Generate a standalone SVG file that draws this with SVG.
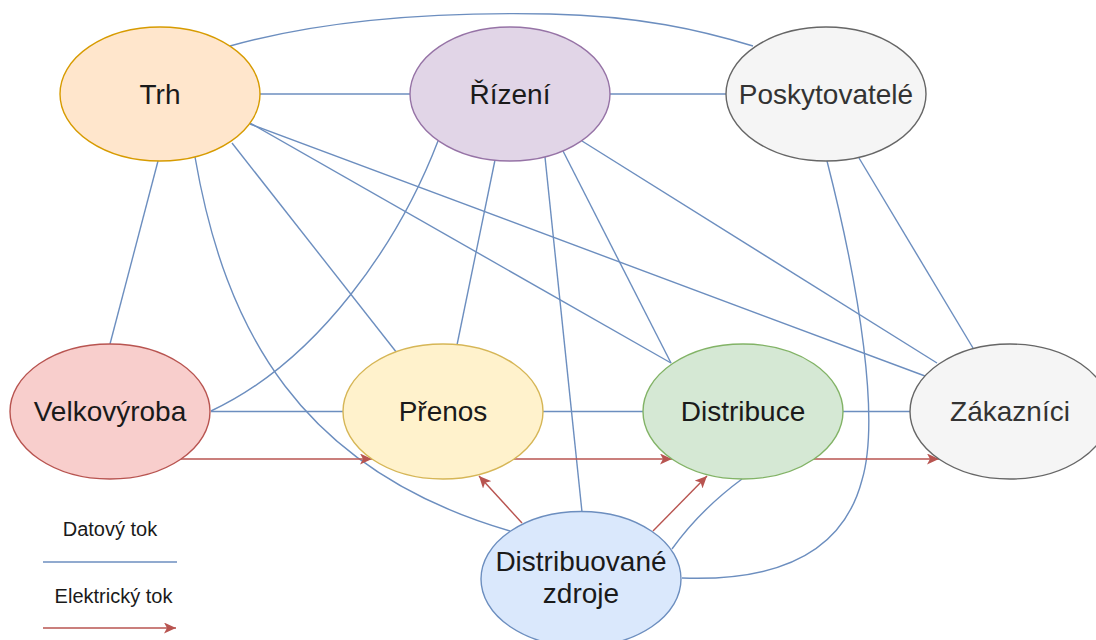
<svg xmlns="http://www.w3.org/2000/svg" width="1096" height="640" viewBox="0 0 1096 640">
  <defs>
    <style>
      .node ellipse { stroke-width: 1.4; }
      .label { font-family: "Liberation Sans", Arial, sans-serif; font-size: 28px; text-anchor: middle; fill: #1a1a1a; }
      .label.grey { fill: #333333; }
      .legend { font-family: "Liberation Sans", Arial, sans-serif; font-size: 20px; text-anchor: middle; fill: #1a1a1a; }
      .data { fill: none; stroke: #6c8ebf; stroke-width: 1.4; }
      .power { fill: none; stroke: #b85450; stroke-width: 1.4; marker-end: url(#arrow); }
    </style>
    <marker id="arrow" viewBox="0 0 12 11" refX="12" refY="5.5" markerWidth="12" markerHeight="11" markerUnits="userSpaceOnUse" orient="auto">
      <path d="M0,0 L12,5.5 L0,11 L3,5.5 z" fill="#b85450" stroke="none"/>
    </marker>
  </defs>

  <rect width="1096" height="640" fill="#ffffff"/>

  <!-- connectors: data links (blue) and power flows (red) -->
  <g id="connectors">
    <path class="data" d="M260,94 H410"/>
    <path class="data" d="M610,94 H726"/>
    <path class="data" d="M230,46 C330,18 450,12 550,14 C640,16 700,30 753,46"/>
    <path class="data" d="M158,161 L110,344"/>
    <path class="data" d="M195,157 C225,330 300,470 510,531"/>
    <path class="data" d="M232,143 L397,353"/>
    <path class="data" d="M250,123 L671,363"/>
    <path class="data" d="M250,124 L925,376"/>
    <path class="data" d="M438,141 C400,240 320,360 211,411"/>
    <path class="data" d="M495,160 L457,345"/>
    <path class="data" d="M545,157 L582,512"/>
    <path class="data" d="M563,151 L671,363"/>
    <path class="data" d="M582,141 L937,363"/>
    <path class="data" d="M827,161 C860,290 880,420 862,480 C845,545 790,582 682,578"/>
    <path class="data" d="M859,158 L973,348"/>
    <path class="data" d="M672,549 Q700,510 742,479"/>
    <path class="data" d="M211,411.5 H343"/>
    <path class="data" d="M543,411.5 H643"/>
    <path class="data" d="M843,411.5 H910"/>

    <path class="power" d="M181,459 H372"/>
    <path class="power" d="M514,459 H672"/>
    <path class="power" d="M814,459 H939"/>
    <path class="power" d="M522,523 L479,476"/>
    <path class="power" d="M653,531 L707,476"/>
  </g>

  <g id="trh" class="node">
    <ellipse cx="160" cy="94" rx="100" ry="67" fill="#ffe6cc" stroke="#d79b00"/>
    <text class="label" x="160" y="103.5">Trh</text>
  </g>
  <g id="rizeni" class="node">
    <ellipse cx="510" cy="94" rx="100" ry="67" fill="#e1d5e7" stroke="#9673a6"/>
    <text class="label" x="510" y="103.5">Řízení</text>
  </g>
  <g id="poskytovatele" class="node">
    <ellipse cx="826" cy="94" rx="100" ry="67" fill="#f5f5f5" stroke="#666666"/>
    <text class="label grey" x="826" y="103.5">Poskytovatelé</text>
  </g>
  <g id="velkovyroba" class="node">
    <ellipse cx="110" cy="411.5" rx="100" ry="67.5" fill="#f8cecc" stroke="#b85450"/>
    <text class="label" x="110" y="421">Velkovýroba</text>
  </g>
  <g id="prenos" class="node">
    <ellipse cx="443" cy="411.5" rx="100" ry="67.5" fill="#fff2cc" stroke="#d6b656"/>
    <text class="label" x="443" y="421">Přenos</text>
  </g>
  <g id="distribuce" class="node">
    <ellipse cx="743" cy="411.5" rx="100" ry="67.5" fill="#d5e8d4" stroke="#82b366"/>
    <text class="label" x="743" y="421">Distribuce</text>
  </g>
  <g id="zakaznici" class="node">
    <ellipse cx="1010" cy="411.5" rx="100" ry="67.5" fill="#f5f5f5" stroke="#666666"/>
    <text class="label grey" x="1010" y="421">Zákazníci</text>
  </g>
  <g id="distribuovane-zdroje" class="node">
    <ellipse cx="581" cy="579" rx="100" ry="67.5" fill="#dae8fc" stroke="#6c8ebf"/>
    <text class="label" x="581" y="571">Distribuované</text>
    <text class="label" x="581" y="603">zdroje</text>
  </g>

  <g id="legend">
    <text class="legend" x="110" y="536">Datový tok</text>
    <path class="data" d="M43,562 H177"/>
    <text class="legend" x="113.5" y="603">Elektrický tok</text>
    <path class="power" d="M43,628 H176"/>
  </g>
</svg>
